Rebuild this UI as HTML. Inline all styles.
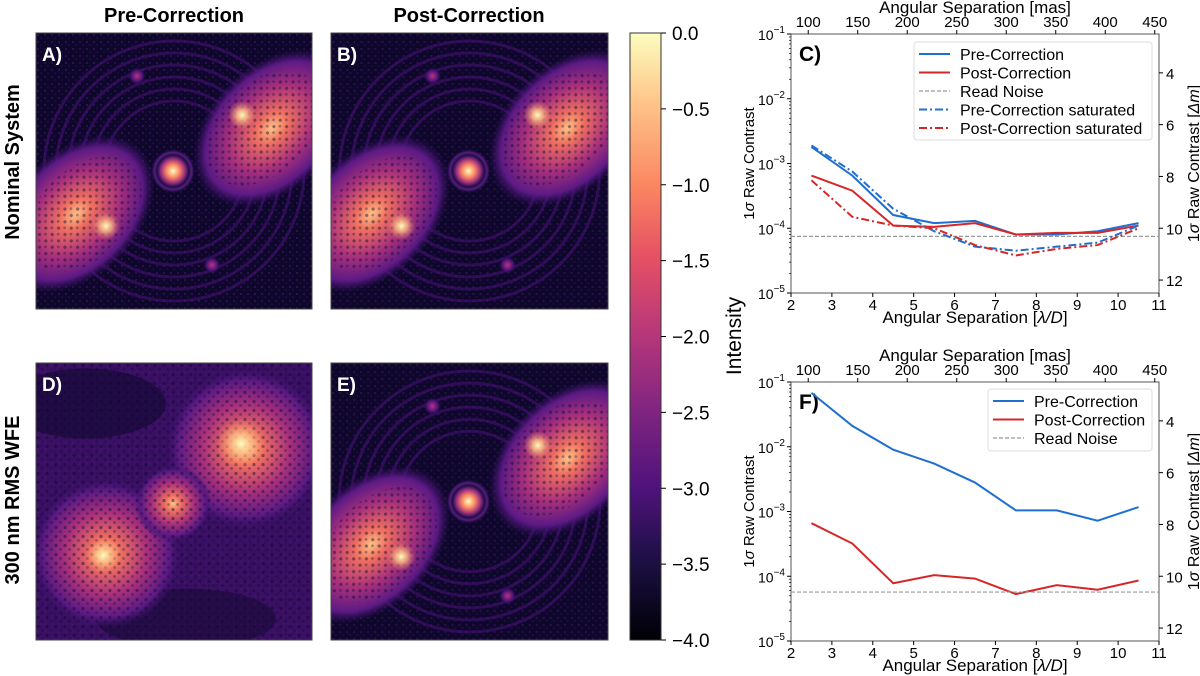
<!DOCTYPE html>
<html><head><meta charset="utf-8">
<style>
html,body{margin:0;padding:0;background:#fff;}
body{width:1200px;height:676px;position:relative;overflow:hidden;font-family:"Liberation Sans","DejaVu Sans",sans-serif;}
svg{position:absolute;left:0;top:0;}
</style></head>
<body>
<svg id="fig" width="1200" height="676" viewBox="0 0 1200 676" xmlns="http://www.w3.org/2000/svg">
<defs>
<linearGradient id="magma" x1="0" y1="1" x2="0" y2="0">
<stop offset="0" stop-color="#000004"/><stop offset="0.13" stop-color="#1c1044"/><stop offset="0.25" stop-color="#4f127b"/><stop offset="0.38" stop-color="#812581"/><stop offset="0.5" stop-color="#b5367a"/><stop offset="0.63" stop-color="#e55064"/><stop offset="0.75" stop-color="#fb8761"/><stop offset="0.88" stop-color="#fec287"/><stop offset="1" stop-color="#fcfdbf"/>
</linearGradient>
<radialGradient id="lobe" cx="0.5" cy="0.5" r="0.5"><stop offset="0" stop-color="#fec287"/><stop offset="0.2" stop-color="#f07060"/><stop offset="0.55" stop-color="#a8307c"/><stop offset="0.85" stop-color="#5c1a84"/><stop offset="1" stop-color="#3a0f6a" stop-opacity="0"/></radialGradient>
<radialGradient id="hot"><stop offset="0" stop-color="#fcfdbf"/><stop offset="0.4" stop-color="#fec287" stop-opacity="0.8"/><stop offset="1" stop-color="#fb8761" stop-opacity="0"/></radialGradient>
<radialGradient id="star"><stop offset="0" stop-color="#fcfdbf"/><stop offset="0.3" stop-color="#fb8761"/><stop offset="0.55" stop-color="#9a2c80"/><stop offset="0.72" stop-color="#1c1044"/><stop offset="0.85" stop-color="#5a1a82"/><stop offset="1" stop-color="#1c1044" stop-opacity="0"/></radialGradient>
<radialGradient id="spot"><stop offset="0" stop-color="#b5367a"/><stop offset="0.6" stop-color="#4f127b"/><stop offset="1" stop-color="#1c1044" stop-opacity="0"/></radialGradient>
<pattern id="speckle" width="9" height="9" patternUnits="userSpaceOnUse"><circle cx="2" cy="2" r="1.6" fill="#0d0829" opacity="0.45"/><circle cx="6.5" cy="6" r="1.4" fill="#0d0829" opacity="0.35"/></pattern>
<pattern id="noise" width="7" height="7" patternUnits="userSpaceOnUse"><rect x="1" y="1" width="2" height="2" fill="#4f127b" opacity="0.5"/><rect x="4" y="4" width="2" height="2" fill="#2a0c55" opacity="0.6"/></pattern>
<symbol id="psfNominal" viewBox="0 0 276 276">
<rect width="276" height="276" fill="#0d0829"/>
<rect width="276" height="276" fill="url(#noise)"/>
<g opacity="0.55" fill="none" stroke="#4a127a" stroke-width="3">
<circle cx="138" cy="138" r="70"/><circle cx="138" cy="138" r="82"/><circle cx="138" cy="138" r="94"/><circle cx="138" cy="138" r="106"/><circle cx="138" cy="138" r="118"/><circle cx="138" cy="138" r="130"/></g>
<ellipse cx="236" cy="95" rx="92" ry="62" transform="rotate(-45 236 95)" fill="url(#lobe)"/>
<ellipse cx="40" cy="181" rx="92" ry="62" transform="rotate(-45 40 181)" fill="url(#lobe)"/>
<ellipse cx="228" cy="95" rx="68" ry="45" transform="rotate(-45 228 95)" fill="url(#speckle)"/>
<ellipse cx="48" cy="181" rx="68" ry="45" transform="rotate(-45 48 181)" fill="url(#speckle)"/>
<circle cx="206" cy="82" r="14" fill="url(#hot)"/>
<circle cx="70" cy="193" r="14" fill="url(#hot)"/>
<circle cx="137" cy="138" r="22" fill="url(#star)"/>
<circle cx="101" cy="43" r="9" fill="url(#spot)"/>
<circle cx="176" cy="232" r="9" fill="url(#spot)"/>
</symbol>
<symbol id="psfAberr" viewBox="0 0 276 276">
<rect width="276" height="276" fill="#3a1065"/>
<rect width="276" height="276" fill="url(#noise)"/>
<ellipse cx="50" cy="40" rx="80" ry="35" fill="#0d0829" opacity="0.55"/>
<ellipse cx="150" cy="255" rx="90" ry="30" fill="#0d0829" opacity="0.45"/>
<circle cx="210" cy="85" r="80" fill="url(#lobe)"/>
<circle cx="70" cy="190" r="75" fill="url(#lobe)"/>
<circle cx="137" cy="140" r="38" fill="url(#lobe)"/>
<rect width="276" height="276" fill="url(#speckle)"/>
<circle cx="205" cy="80" r="25" fill="url(#hot)"/>
<circle cx="67" cy="192" r="18" fill="url(#hot)"/>
</symbol>
</defs>

<text x="174" y="22" text-anchor="middle" font-size="20" font-weight="bold">Pre-Correction</text>
<text x="469" y="22" text-anchor="middle" font-size="20" font-weight="bold">Post-Correction</text>
<text transform="translate(19,162) rotate(-90)" text-anchor="middle" font-size="20" font-weight="bold">Nominal System</text>
<text transform="translate(19,500) rotate(-90)" text-anchor="middle" font-size="20" font-weight="bold">300 nm RMS WFE</text>

<g><use href="#psfNominal" x="36" y="33" width="276" height="276"/><rect x="36" y="33" width="276" height="276" fill="none" stroke="#444"/><text x="42" y="61" fill="#fff" font-size="19" font-weight="bold">A)</text></g>
<g><use href="#psfNominal" x="331" y="33" width="277" height="276"/><rect x="331" y="33" width="277" height="276" fill="none" stroke="#444"/><text x="337" y="61" fill="#fff" font-size="19" font-weight="bold">B)</text></g>
<g><use href="#psfAberr" x="36" y="363" width="276" height="277"/><rect x="36" y="363" width="276" height="277" fill="none" stroke="#444"/><text x="42" y="391" fill="#fff" font-size="19" font-weight="bold">D)</text></g>
<g><use href="#psfNominal" x="331" y="363" width="277" height="277"/><rect x="331" y="363" width="277" height="277" fill="none" stroke="#444"/><text x="337" y="391" fill="#fff" font-size="19" font-weight="bold">E)</text></g>

<g id="cbar">
<rect x="630" y="33" width="31" height="607" fill="url(#magma)" stroke="#333"/>
</g>
<text transform="translate(741,336) rotate(-90)" text-anchor="middle" font-size="21">Intensity</text>

<g id="chartC"></g>
<g id="chartF"></g>
</svg>
<script>
const NS='http://www.w3.org/2000/svg';
const svg=document.getElementById('fig');
function mk(tag,attrs,parent){const e=document.createElementNS(NS,tag);for(const k in attrs)e.setAttribute(k,attrs[k]);(parent||svg).appendChild(e);return e;}

const cbTicks=[0.0,-0.5,-1.0,-1.5,-2.0,-2.5,-3.0,-3.5,-4.0];
const cb=document.getElementById('cbar');
cbTicks.forEach(v=>{const y=33+(-v/4)*607;
 const t=mk('line',{x1:661,x2:666,y1:y,y2:y,stroke:'#000'},cb);
 
 
 const l=mk('text',{x:672,y:y+7,'font-size':19},cb);l.textContent=(v===0?'0.0':'\u2212'+Math.abs(v).toFixed(1));
 
 
});

const sepLD=[2.5,3.5,4.5,5.5,6.5,7.5,8.5,9.5,10.5];
const cPre=[1.8e-3,6.5e-4,1.6e-4,1.2e-4,1.3e-4,8e-5,8e-5,9e-5,1.2e-4];
const cPost=[6.5e-4,3.8e-4,1.1e-4,1.05e-4,1.2e-4,8e-5,8.5e-5,8.5e-5,1.1e-4];
const cPreSat=[1.9e-3,7.5e-4,2e-4,9e-5,5.2e-5,4.5e-5,5.2e-5,6e-5,1.1e-4];
const cPostSat=[5.5e-4,1.5e-4,1.1e-4,1e-4,5.5e-5,3.8e-5,4.8e-5,5.5e-5,1e-4];
const cReadNoise=7.5e-5;
const fPre=[6.8e-2,2.1e-2,9e-3,5.5e-3,2.8e-3,1.04e-3,1.04e-3,7.2e-4,1.17e-3];
const fPost=[6.6e-4,3.2e-4,7.8e-5,1.04e-4,9.2e-5,5.3e-5,7.3e-5,6.2e-5,8.6e-5];
const fReadNoise=5.7e-5;
const xTicks=[2,3,4,5,6,7,8,9,10,11];
const masTicks=[100,150,200,250,300,350,400,450];
const yDecades=[-1,-2,-3,-4,-5];
const dmTicks=[4,6,8,10,12];
const MAS_PER_LD=41.3;

function chart(gid,top,name,label,series,legendBox){
 const g=document.getElementById(gid);
 
 const L=791,R=1159,T=top,B=top+259;
 const x=v=>L+(v-2)/9*(R-L);
 const y=c=>T+(-1-Math.log10(c))/4*(B-T);
 const ax=mk('rect',{x:L,y:T,width:R-L,height:B-T,fill:'none',stroke:'#555','stroke-width':1},g);
 
 
 xTicks.forEach(v=>{mk('line',{x1:x(v),x2:x(v),y1:B,y2:B+4,stroke:'#000'},g);
  const t=mk('text',{x:x(v),y:B+17,'font-size':15,'text-anchor':'middle'},g);t.textContent=v;
  
  });
 masTicks.forEach(m=>{const xx=x(m/MAS_PER_LD);mk('line',{x1:xx,x2:xx,y1:T,y2:T-4,stroke:'#000'},g);
  const t=mk('text',{x:xx,y:T-7,'font-size':15,'text-anchor':'middle'},g);t.textContent=m;
  
  });
 yDecades.forEach(d=>{const yy=y(Math.pow(10,d));mk('line',{x1:L,x2:L-4,y1:yy,y2:yy,stroke:'#000'},g);
  const t=mk('text',{x:L-6,y:yy+6,'font-size':14,'text-anchor':'end'},g);
  t.innerHTML='10<tspan dy="-7" font-size="10">\u2212'+(-d)+'</tspan>';
  
  
  if(d>-5){for(let k=2;k<10;k++){const ym=y(k*Math.pow(10,d-1));mk('line',{x1:L,x2:L-2,y1:ym,y2:ym,stroke:'#000','stroke-width':0.7},g);}}});
 dmTicks.forEach(m=>{const yy=y(Math.pow(10,-m/2.5));mk('line',{x1:R,x2:R+4,y1:yy,y2:yy,stroke:'#000'},g);
  const t=mk('text',{x:R+7,y:yy+6,'font-size':15},g);t.textContent=m;
  
  });
 const xl=mk('text',{x:(L+R)/2,y:B+30,'font-size':17,'text-anchor':'middle'},g);xl.innerHTML='Angular Separation [<tspan font-style="italic">λ/D</tspan>]';
 
 
 const tl=mk('text',{x:(L+R)/2,y:T-21,'font-size':17,'text-anchor':'middle'},g);tl.textContent='Angular Separation [mas]';
 
 
 const yl=mk('text',{transform:`translate(754,${(T+B)/2}) rotate(-90)`,'font-size':15,'text-anchor':'middle'},g);yl.innerHTML='1<tspan font-style="italic">σ</tspan> Raw Contrast';
 
 
 const rl=mk('text',{transform:`translate(1199,${(T+B)/2}) rotate(-90)`,'font-size':16,'text-anchor':'middle'},g);rl.innerHTML='1<tspan font-style="italic">σ</tspan> Raw Contrast [<tspan font-style="italic">Δm</tspan>]';
 
 
 const pl=mk('text',{x:L+8,y:T+27,'font-size':21,'font-weight':'bold'},g);pl.textContent=label;
 
 
 const lb=mk('rect',{x:legendBox.x,y:legendBox.y,width:legendBox.w,height:legendBox.h,fill:'#fff',stroke:'#ddd',rx:3},g);
 
 
 series.forEach((s,i)=>{
  const attrs={fill:'none',stroke:s.color,'stroke-width':s.w||2};
  if(s.dash)attrs['stroke-dasharray']=s.dash;
  if(s.values){
   attrs.points=s.values.map((v,j)=>x(sepLD[j])+','+y(v)).join(' ');
   const p=mk('polyline',attrs,g);
   
   
  } else {
   const p=mk('line',Object.assign({x1:L,x2:R,y1:y(s.level),y2:y(s.level)},attrs),g);
   
   
  }
  const ly=legendBox.y+12+i*18.5;
  const la=Object.assign({x1:legendBox.x+5,x2:legendBox.x+36,y1:ly,y2:ly},attrs);delete la.points;delete la.fill;
  mk('line',la,g);
  const lt=mk('text',{x:legendBox.x+46,y:ly+6,'font-size':16},g);lt.textContent=s.name;
  
  
 });
}
const BLUE='#1f6fd1',RED='#d62728';
chart('chartC',34,'chart-c','C)',[
 {id:'pre-correction-line',name:'Pre-Correction',color:BLUE,values:cPre},
 {id:'post-correction-line',name:'Post-Correction',color:RED,values:cPost},
 {id:'read-noise-line',name:'Read Noise',color:'#999',level:cReadNoise,dash:'4,2',w:1.2},
 {id:'pre-correction-saturated-line',name:'Pre-Correction saturated',color:BLUE,values:cPreSat,dash:'8,3,2,3'},
 {id:'post-correction-saturated-line',name:'Post-Correction saturated',color:RED,values:cPostSat,dash:'8,3,2,3'}
],{x:914,y:42,w:238,h:98});
chart('chartF',382,'chart-f','F)',[
 {id:'pre-correction-line',name:'Pre-Correction',color:BLUE,values:fPre},
 {id:'post-correction-line',name:'Post-Correction',color:RED,values:fPost},
 {id:'read-noise-line',name:'Read Noise',color:'#999',level:fReadNoise,dash:'4,2',w:1.2}
],{x:988,y:389,w:164,h:62});
</script>
</body></html>
